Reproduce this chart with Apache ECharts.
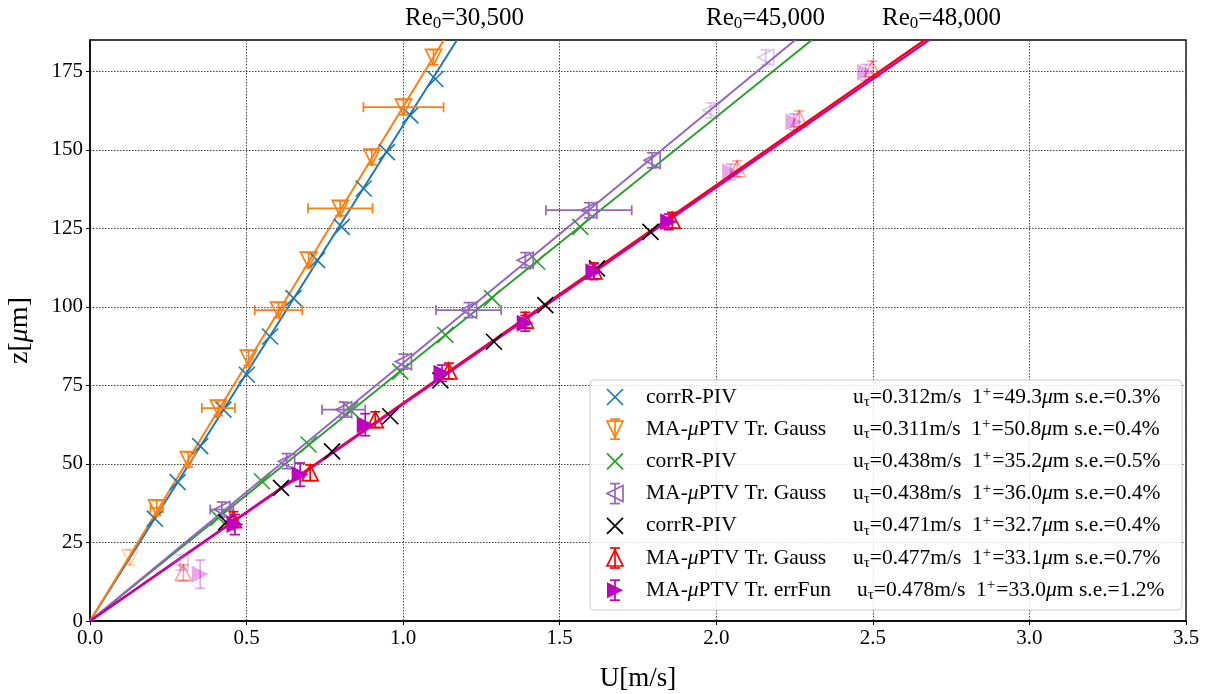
<!DOCTYPE html>
<html><head><meta charset="utf-8">
<script src="https://cdn.jsdelivr.net/npm/echarts@6/dist/echarts.min.js"></script>
<style>html,body{margin:0;padding:0;background:#fff}#c{width:1206px;height:694px}</style>
</head><body><div id="c"></div>
<script>
const FONT = '"Liberation Serif","DejaVu Serif","Times New Roman",serif';
const FADE = 0.35;

// ---- data (U in m/s, z in micrometres) ----
const xTicks = [0, 0.5, 1.0, 1.5, 2.0, 2.5, 3.0, 3.5];
const yTicks = [0, 25, 50, 75, 100, 125, 150, 175];

// Re0 = 30,500
const blueU = [0.207, 0.280, 0.352, 0.426, 0.501, 0.575, 0.650, 0.725, 0.804, 0.874, 0.948, 1.023, 1.103];
const blueZ = [32.6, 44.2, 55.7, 67.3, 78.4, 90.6, 102.8, 114.9, 125.5, 137.7, 149.3, 161.0, 172.6];

const orangeU = [0.128, 0.213, 0.314, 0.410, 0.506, 0.602, 0.698, 0.799, 0.900, 1.001, 1.097];
const orangeZ = [20.2, 36.0, 51.4, 67.8, 83.7, 99.0, 114.9, 131.4, 147.7, 163.6, 179.5];
const orangeUerr = [0, 0.020, 0, 0.053, 0, 0.076, 0, 0.103, 0, 0.128, 0];
const orangeZerr = [2.4, 2.4, 2.4, 2.4, 2.4, 2.4, 2.4, 2.4, 2.4, 2.4, 2.4];
const orangeFaded = [1, 0, 0, 0, 0, 0, 0, 0, 0, 0, 0];

// Re0 = 45,000
const greenU = [0.410, 0.549, 0.698, 0.831, 0.991, 1.135, 1.284, 1.428, 1.566];
const greenZ = [32.9, 44.5, 56.2, 67.3, 79.4, 91.1, 102.8, 114.4, 125.5];

const purpleU = [0.288, 0.421, 0.628, 0.810, 1.001, 1.209, 1.390, 1.593, 1.795, 1.982, 2.158];
const purpleZ = [18.6, 35.5, 50.9, 67.3, 82.6, 99.0, 114.9, 130.8, 146.7, 162.6, 179.5];
const purpleUerr = [0, 0.037, 0, 0.069, 0, 0.104, 0, 0.137, 0, 0, 0];
const purpleZerr = [2.4, 2.4, 2.4, 2.4, 2.4, 2.4, 2.4, 2.4, 2.4, 2.4, 2.4];
const purpleFaded = [1, 0, 0, 0, 0, 0, 0, 0, 0, 1, 1];

// Re0 = 48,000
const blackU = [0.435, 0.610, 0.773, 0.959, 1.119, 1.290, 1.454, 1.619, 1.790];
const blackZ = [31.5, 42.4, 54.0, 65.2, 76.6, 88.9, 100.6, 112.3, 123.9];

const redU = [0.298, 0.458, 0.703, 0.911, 1.146, 1.390, 1.609, 1.859, 2.067, 2.265, 2.498];
const redZ = [15.4, 32.3, 47.2, 64.1, 79.6, 95.8, 111.5, 127.6, 144.0, 159.9, 175.8];
const redZerr = [2.5, 2.5, 2.5, 2.5, 2.5, 2.5, 2.5, 2.5, 2.5, 2.5, 2.5];
const redFaded = [1, 0, 0, 0, 0, 0, 0, 0, 1, 1, 1];

const magU = [0.352, 0.463, 0.671, 0.879, 1.124, 1.390, 1.609, 1.848, 2.046, 2.248, 2.477];
const magZ = [14.9, 30.7, 46.6, 62.5, 78.9, 94.8, 111.2, 127.1, 143.0, 158.9, 174.7];
const magZerr = [4.5, 3.2, 3.7, 3.5, 2.6, 2.5, 2.5, 2.5, 2.5, 2.5, 2.5];
const magFaded = [1, 0, 0, 0, 0, 0, 0, 0, 1, 1, 1];

// linear fits: U reached at the top of the plot (z = 185)
const fitZTop = 185;
const fitUTop = {blue: 1.172, orange: 1.130, green: 2.305, purple: 2.252, red: 2.666, mag: 2.680};

// legend text
const legLabels = ['corrR-PIV', 'MA-μPTV Tr. Gauss', 'corrR-PIV', 'MA-μPTV Tr. Gauss', 'corrR-PIV', 'MA-μPTV Tr. Gauss', 'MA-μPTV Tr. errFun'];
const legUtau = ['0.312', '0.311', '0.438', '0.438', '0.471', '0.477', '0.478'];
const legLplus = ['49.3', '50.8', '35.2', '36.0', '32.7', '33.1', '33.0'];
const legSE = ['0.3', '0.4', '0.5', '0.4', '0.4', '0.7', '1.2'];
const reLabels = ['30,500', '45,000', '48,000'];

// ---- styles ----
const C = {blue:'#1f77b4', orange:'#ff7f0e', green:'#2ca02c', purple:'#9467bd', black:'#000000', red:'#ff0000', mag:'#bf00bf'};
const SYM = {
  x: 'M0,0L10,10M10,0L0,10',
  down: 'M0,0L10,0L5,10Z',
  left: 'M10,0L0,5L10,10Z',
  up: 'M5,0L10,10L0,10Z',
  right: 'M0,0L10,5L0,10Z'
};
const SYMPTS = {
  down: [[0,0],[1,0],[0.5,1]],
  left: [[1,0],[0,0.5],[1,1]],
  up: [[0.5,0],[1,1],[0,1]],
  right: [[0,0],[1,0.5],[0,1]]
};

function fitLine(color, uTop, w) {
  return {type:'line', data:[[0,0],[uTop, fitZTop]], showSymbol:false, symbol:'none',
    lineStyle:{color:color, width:w}, z:2, silent:true, animation:false, clip:true};
}
function markers(U, Z, faded, sym, size, color, filled, lw, z) {
  return {type:'scatter', symbol:'path://'+SYM[sym], symbolSize:size, z:z||4, animation:false, silent:true,
    itemStyle:{color: filled ? color : 'rgba(0,0,0,0)', borderColor: color, borderWidth: lw},
    data: U.map((u,i)=>({value:[u, Z[i]], itemStyle:{opacity: (faded && faded[i]) ? FADE : 1}}))};
}
function errbars(U, Z, Uerr, Zerr, faded, color, z) {
  return {type:'custom', z:z||4, animation:false, silent:true, clip:true,
    data: U.map((u,i)=>[u, Z[i], Uerr ? Uerr[i] : 0, Zerr ? Zerr[i] : 0, (faded && faded[i]) ? FADE : 1]),
    encode:{x:0, y:1},
    renderItem: function(params, api){
      const x = api.value(0), y = api.value(1), xe = api.value(2), ye = api.value(3), a = api.value(4);
      const cap = 5, ch = [];
      if (xe > 0) {
        const l = api.coord([x-xe, y]), r = api.coord([x+xe, y]);
        ch.push([l[0],l[1],r[0],r[1]], [l[0],l[1]-cap,l[0],l[1]+cap], [r[0],r[1]-cap,r[0],r[1]+cap]);
      }
      if (ye > 0) {
        const t = api.coord([x, y+ye]), b = api.coord([x, y-ye]);
        ch.push([t[0],t[1],b[0],b[1]], [t[0]-cap,t[1],t[0]+cap,t[1]], [b[0]-cap,b[1],b[0]+cap,b[1]]);
      }
      return {type:'group', children: ch.map(s=>({type:'line', shape:{x1:s[0],y1:s[1],x2:s[2],y2:s[3]},
        style:{stroke:color, lineWidth:1.7, opacity:a}}))};
    }};
}

const series = [
  fitLine(C.blue, fitUTop.blue, 2),
  fitLine(C.orange, fitUTop.orange, 2),
  fitLine(C.green, fitUTop.green, 2),
  fitLine(C.purple, fitUTop.purple, 2),
  fitLine(C.red, fitUTop.red, 2.2),
  fitLine(C.mag, fitUTop.mag, 2.2),
  markers(blueU, blueZ, null, 'x', 16, C.blue, false, 1.6, 3),
  errbars(orangeU, orangeZ, orangeUerr, orangeZerr, orangeFaded, C.orange, 4),
  markers(orangeU, orangeZ, orangeFaded, 'down', 16, C.orange, false, 1.7, 4),
  markers(greenU, greenZ, null, 'x', 16, C.green, false, 1.6, 5),
  errbars(purpleU, purpleZ, purpleUerr, purpleZerr, purpleFaded, C.purple, 6),
  markers(purpleU, purpleZ, purpleFaded, 'left', 16, C.purple, false, 1.7, 6),
  markers(blackU, blackZ, null, 'x', 16, C.black, false, 1.6, 7),
  errbars(redU, redZ, null, redZerr, redFaded, C.red, 8),
  markers(redU, redZ, redFaded, 'up', 16, C.red, false, 1.7, 8),
  errbars(magU, magZ, null, magZerr, magFaded, C.mag, 9),
  markers(magU, magZ, magFaded, 'right', 17, C.mag, true, 0, 9)
];

// ---- legend (graphic) ----
const legSym = [['x',C.blue,false,false],['down',C.orange,false,true],['x',C.green,false,false],['left',C.purple,false,true],
                ['x',C.black,false,false],['up',C.red,false,true],['right',C.mag,true,true]];
const LX = 590, LY = 380, LW = 592, LH = 230, ROW0 = 397, ROWD = 32.2;
const FS = 21.5;
const rich = {
  t:{fontFamily:FONT, fontSize:FS, color:'#000'},
  i:{fontFamily:FONT, fontSize:FS, fontStyle:'italic', color:'#000'},
  s:{fontFamily:FONT, fontSize:15, color:'#000', padding:[10,0,0,0]},
  p:{fontFamily:FONT, fontSize:15, color:'#000', padding:[0,1,10,0]}
};
function seg(x1,y1,x2,y2,color){
  return {type:'line', z:52, shape:{x1:x1,y1:y1,x2:x2,y2:y2}, style:{stroke:color, lineWidth:1.7}};
}
const graphics = [{type:'rect', shape:{x:LX, y:LY, width:LW, height:LH, r:4}, z:50,
  style:{fill:'rgba(255,255,255,0.85)', stroke:'#cccccc', lineWidth:1}}];
legLabels.forEach((lab, k) => {
  const cy = ROW0 + k*ROWD, cx = 615, s = legSym[k], h = 8;
  if (s[0] === 'x') {
    graphics.push(seg(cx-h,cy-h,cx+h,cy+h,s[1]), seg(cx+h,cy-h,cx-h,cy+h,s[1]));
  } else {
    graphics.push({type:'polygon', z:51, shape:{points: SYMPTS[s[0]].map(p=>[cx-h+2*h*p[0], cy-h+2*h*p[1]])},
      style:{fill: s[2] ? s[1] : 'none', stroke: s[2] ? 'none' : s[1], lineWidth:1.7}});
  }
  if (s[3]) {
    graphics.push(seg(cx,cy-10,cx,cy+10,s[1]), seg(cx-5,cy-10,cx+5,cy-10,s[1]), seg(cx-5,cy+10,cx+5,cy+10,s[1]));
  }
  const m = lab.match(/^(.*?)μ(.*)$/);
  const labText = m ? '{t|' + m[1] + '}{i|μ}{t|' + m[2] + '}' : '{t|' + lab + '}';
  graphics.push({type:'text', z:52, x:646, y:cy, style:{text:labText, rich:rich, verticalAlign:'middle', align:'left'}});
  const col2 = '{t|u}{s|τ}{t|=' + legUtau[k] + 'm/s  1}{p|+}{t|=' + legLplus[k] + '}{i|μ}{t|m s.e.=' + legSE[k] + '%}';
  graphics.push({type:'text', z:52, x: k === 6 ? 857 : 853, y:cy, style:{text:col2, rich:rich, verticalAlign:'middle', align:'left'}});
});
const reX = [405, 706, 882];
reLabels.forEach((r, k) => {
  graphics.push({type:'text', z:52, x:reX[k], y:18, style:{text:'{t|Re}{s|0}{t|=' + r + '}', verticalAlign:'middle',
    rich:{t:{fontFamily:FONT, fontSize:25, color:'#000'}, s:{fontFamily:FONT, fontSize:17, color:'#000', padding:[11,0,0,0]}}}});
});

const option = {
  animation:false,
  backgroundColor:'#ffffff',
  grid:{left:90, right:20, top:40, bottom:73, show:true, borderColor:'#000', borderWidth:1.3, backgroundColor:'transparent',
    containLabel:false, outerBoundsMode:'none'},
  xAxis:{type:'value', min:xTicks[0], max:xTicks[xTicks.length-1], interval:0.5,
    name:'U[m/s]', nameLocation:'middle', nameGap:44,
    nameTextStyle:{fontFamily:FONT, fontSize:27, color:'#000'},
    axisLine:{show:true, onZero:false, lineStyle:{color:'#000', width:1.5}},
    axisTick:{show:true, inside:false, length:4, lineStyle:{color:'#000', width:1}},
    axisLabel:{fontFamily:FONT, fontSize:21, color:'#000', margin:7, formatter:v=>v.toFixed(1)},
    splitLine:{show:true, lineStyle:{color:'#444', width:1, type:[1.5,1.5]}}},
  yAxis:{type:'value', min:0, max:185, interval:25,
    name:'{t|z[}{i|μ}{t|m]}', nameLocation:'middle', nameGap:56, nameRotate:90,
    nameTextStyle:{rich:{t:{fontFamily:FONT, fontSize:28, color:'#000'}, i:{fontFamily:FONT, fontSize:28, fontStyle:'italic', color:'#000'}}},
    axisLine:{show:true, onZero:false, lineStyle:{color:'#000', width:1.5}},
    axisTick:{show:true, inside:false, length:4, lineStyle:{color:'#000', width:1}, customValues: yTicks},
    axisLabel:{fontFamily:FONT, fontSize:21, color:'#000', margin:7, customValues: yTicks},
    splitLine:{show:true, lineStyle:{color:'#444', width:1, type:[1.5,1.5]}}},
  series: series,
  graphic: graphics
};
const chart = echarts.init(document.getElementById('c'));
chart.setOption(option);
</script></body></html>
